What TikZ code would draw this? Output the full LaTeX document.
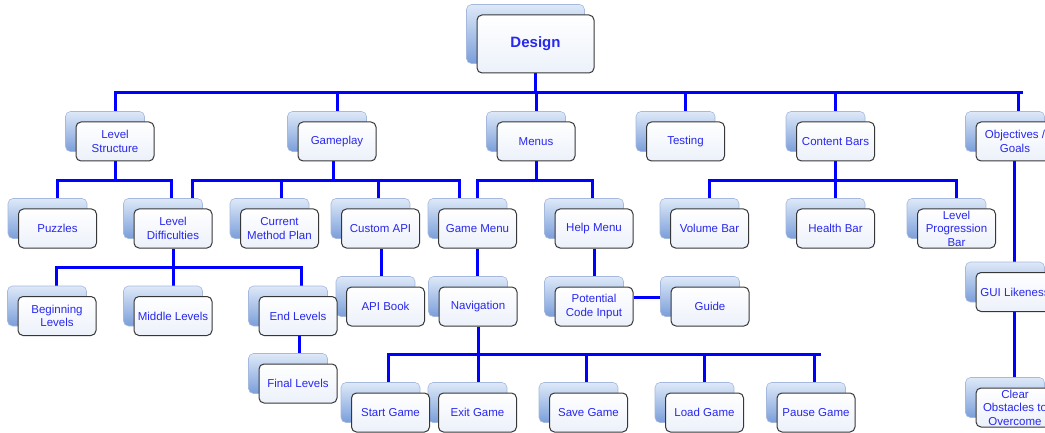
\documentclass[tikz,border=0pt]{standalone}
\usepackage{fontspec}
\setmainfont{Liberation Sans}

% connectors under the back cards, back cards under the front cards
\pgfdeclarelayer{links}
\pgfdeclarelayer{cards}
\pgfsetlayers{links,cards,main}

\definecolor{linkblue}{RGB}{0,0,255}
\definecolor{labelblue}{RGB}{40,40,238}
\definecolor{backtop}{RGB}{222,233,248}
\definecolor{backbot}{RGB}{122,158,218}
\definecolor{backline}{RGB}{165,185,222}
\definecolor{frontline}{RGB}{55,55,55}
\definecolor{frontbot}{RGB}{236,241,250}

\tikzset{
  topic/.style={draw=frontline, line width=1pt, rounded corners=5pt,
    top color=white, bottom color=frontbot,
    minimum width=78pt, minimum height=39pt, inner sep=0pt,
    align=center, text=labelblue, font=\fontsize{11.5}{13.5}\selectfont},
  root/.style={topic, minimum width=117pt, minimum height=58pt,
    font=\fontsize{15}{18}\selectfont\bfseries},
  backcard/.style={draw=backline, line width=0.6pt, rounded corners=5pt,
    top color=backtop, bottom color=backbot},
  link/.style={draw=linkblue, line width=3pt, line join=miter},
}

% blue card lying behind a topic, offset up and to the left
\newcommand\backcard[1]{%
  \begin{pgfonlayer}{cards}
    \path[backcard] ([shift={(-10pt,10pt)}]#1.south west)
      rectangle ([shift={(-10pt,10pt)}]#1.north east);
  \end{pgfonlayer}}

\begin{document}
\begin{tikzpicture}[x=1pt,y=-1pt]
\useasboundingbox (0,0) rectangle (1045,433);

% ---- topics
\node[root]  (design) at (535.5,44)   {Design};

\node[topic] (ls)   at (115,141.5)   {Level\\Structure};
\node[topic] (gp)   at (337,141.5)   {Gameplay};
\node[topic] (mn)   at (536,141.5)   {Menus};
\node[topic] (ts)   at (685.5,141.5) {Testing};
\node[topic] (cb)   at (835.5,141.5) {Content Bars};
\node[topic] (og)   at (1015,141.5)  {Objectives /\\Goals};

\node[topic] (pz)   at (57.5,228.5)  {Puzzles};
\node[topic] (ld)   at (173,228.5)   {Level\\Difficulties};
\node[topic] (cmp)  at (279.5,228.5) {Current\\Method Plan};
\node[topic] (capi) at (380.5,228.5) {Custom API};
\node[topic] (gm)   at (477.5,228.5) {Game Menu};
\node[topic] (hm)   at (594,228.5)   {Help Menu};
\node[topic] (vb)   at (709.5,228.5) {Volume Bar};
\node[topic] (hb)   at (835.5,228.5) {Health Bar};
\node[topic] (lpb)  at (956.5,228.5) {Level\\Progression\\Bar};

\node[topic] (bl)   at (57,316)      {Beginning\\Levels};
\node[topic] (ml)   at (173,316)     {Middle Levels};
\node[topic] (el)   at (298,316)     {End Levels};
\node[topic] (fl)   at (298,383.5)   {Final Levels};

\node[topic] (apib) at (385.5,306.5) {API Book};
\node[topic] (nav)  at (478,306.5)   {Navigation};
\node[topic] (pci)  at (594,306.5)   {Potential\\Code Input};
\node[topic] (guide) at (710,306.5)  {Guide};

\node[topic] (gui)  at (1015,292)    {GUI Likeness};
\node[topic] (co)   at (1015,407.5)  {Clear\\Obstacles to\\Overcome};

\node[topic] (sg)   at (390.5,412.5) {Start Game};
\node[topic] (eg)   at (477.5,412.5) {Exit Game};
\node[topic] (svg)  at (588.5,412.5) {Save Game};
\node[topic] (lg)   at (704.5,412.5) {Load Game};
\node[topic] (pg)   at (816,412.5)   {Pause Game};

\foreach \n in {design,ls,gp,mn,ts,cb,og,pz,ld,cmp,capi,gm,hm,vb,hb,lpb,
                bl,ml,el,fl,apib,nav,pci,guide,gui,co,sg,eg,svg,lg,pg}
  {\backcard{\n}}

% ---- connectors
\begin{pgfonlayer}{links}
\coordinate (busA) at (0,93);
\coordinate (busB) at (0,180.5);
\coordinate (busC) at (0,267.5);
\coordinate (busD) at (0,354);

% root to first row
\draw[link] (design.south) -- (design.south |- busA);
\draw[link] (ls.north) |- ([xshift=8pt]og.north |- busA);
\foreach \n in {gp,mn,ts,cb}
  {\draw[link] (\n.north) -- (\n.north |- busA);}
\draw[link] ([xshift=3pt]og.north) -- ([xshift=3pt]og.north |- busA);

% Level Structure
\draw[link] (ls.south) -- (ls.south |- busB);
\draw[link] (pz.north) |- ([xshift=-2pt]ld.north |- busB) -- ([xshift=-2pt]ld.north);

% Gameplay
\draw[link] ([xshift=-4pt]gp.south) -- ([xshift=-4pt]gp.south |- busB);
\draw[link] ([xshift=19pt]ld.north) |- ([xshift=-18.5pt]gm.north |- busB)
  -- ([xshift=-18.5pt]gm.north);
\draw[link] ([xshift=2pt]cmp.north) -- ([xshift=2pt]cmp.north |- busB);
\draw[link] ([xshift=-2pt]capi.north) -- ([xshift=-2pt]capi.north |- busB);

% Menus
\draw[link] (mn.south) -- (mn.south |- busB);
\draw[link] (gm.north) |- ([xshift=-2pt]hm.north |- busB) -- ([xshift=-2pt]hm.north);

% Content Bars
\draw[link] (cb.south) -- (cb.south |- busB);
\draw[link] (vb.north) |- (lpb.north |- busB) -- (lpb.north);
\draw[link] (hb.north) -- (hb.north |- busB);

% Objectives / Goals
\draw[link] ([xshift=-1pt]og.south) -- ([xshift=-1pt]gui.north);
\draw[link] ([xshift=-1pt]gui.south) -- ([xshift=-1pt]co.north);

% Level Difficulties
\draw[link] (ld.south) -- (ml.north);
\draw[link] ([xshift=-1pt]bl.north) |- ([xshift=3pt]el.north |- busC) -- ([xshift=3pt]el.north);
\draw[link] ([xshift=1pt]el.south) -- ([xshift=1pt]fl.north);

% second level chains
\draw[link] ([xshift=0.5pt]capi.south) -- ([xshift=0.5pt]capi.south |- apib.north);
\draw[link] (nav.north -| gm.south) -- (gm.south);
\draw[link] (hm.south) -- (pci.north);
\draw[link] ([yshift=9.5pt]pci.east) -- ([yshift=9.5pt]pci.east -| guide.west);

% Navigation
\draw[link] (nav.south) -- (nav.south |- eg.north);
\draw[link] ([xshift=-2pt]sg.north) |- ([xshift=5pt]pg.north |- busD);
\draw[link] ([xshift=-2pt]svg.north) -- ([xshift=-2pt]svg.north |- busD);
\draw[link] (lg.north) -- (lg.north |- busD);
\draw[link] ([xshift=-2pt]pg.north) -- ([xshift=-2pt]pg.north |- busD);
\end{pgfonlayer}
\end{tikzpicture}
\end{document}
